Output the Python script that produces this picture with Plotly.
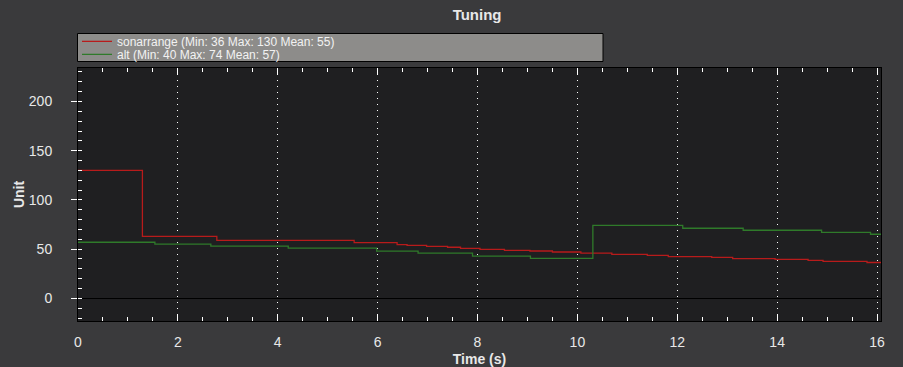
import plotly.graph_objects as go

# ---- data ----
sonar_t = [0, 1.29, 2.78, 5.53, 6.39, 6.59, 6.98, 7.40, 7.66, 8.05, 8.54, 9.05, 9.50,
           10.07, 10.69, 11.40, 11.82, 12.69, 13.11, 13.96, 14.62, 14.92, 15.80, 16.08]
sonar_v = [130, 63, 59, 56.6, 54.5, 53.9, 52.9, 51.9, 50.8, 49.8, 48.8, 48.1, 47.1,
           46.0, 44.7, 43.7, 42.3, 41.7, 40.3, 39.7, 38.6, 37.6, 36.4, 36.4]

alt_t = [0, 1.54, 2.66, 4.21, 5.98, 6.81, 7.90, 9.06, 10.31, 12.11, 13.32, 14.89, 15.87, 16.08]
alt_v = [57, 55, 53, 51, 48, 46, 43, 40.7, 74.2, 71.2, 69.2, 67.1, 65.1, 65.1]

sonar_name = "sonarrange (Min: 36 Max: 130 Mean: 55)"
alt_name = "alt (Min: 40 Max: 74 Mean: 57)"

x_ticks = [0, 2, 4, 6, 8, 10, 12, 14, 16]
y_ticks = [0, 50, 100, 150, 200]

FONT = "Liberation Sans, Arial, sans-serif"
TXT = "#e8e8e8"

fig = go.Figure()
fig.add_trace(go.Scatter(x=sonar_t, y=sonar_v, mode="lines", name=sonar_name,
                         line=dict(color="#b81b1b", width=1.3, shape="hv"), legend="legend"))
fig.add_trace(go.Scatter(x=alt_t, y=alt_v, mode="lines", name=alt_name,
                         line=dict(color="#2f7a2a", width=1.3, shape="hv"), legend="legend2"))

W, H = 903, 367
L, R, T, B = 78, 881, 68, 321
pw, ph = R - L, B - T

def px(xp):
    return (xp - L) / pw

def py(yp):
    return (B - yp) / ph

fig.update_layout(
    template="none",
    width=W, height=H,
    margin=dict(l=L, r=W - R, t=T, b=H - B, pad=0, autoexpand=False),
    paper_bgcolor="#3a3a3c",
    plot_bgcolor="#1f1f21",
    font=dict(family=FONT, color=TXT, size=14),
    showlegend=True,
    title=dict(text="<b>Tuning</b>", x=0.497, xref="paper", xanchor="center",
               y=1 - 15 / H, yanchor="middle", font=dict(size=15, color=TXT)),
    legend=dict(x=px(77), xanchor="left", y=py(41.3), yanchor="middle",
                bgcolor="rgba(0,0,0,0)", borderwidth=0,
                font=dict(size=12, color="#f2f2f2", family=FONT)),
    legend2=dict(x=px(77), xanchor="left", y=py(54.3), yanchor="middle",
                 bgcolor="rgba(0,0,0,0)", borderwidth=0,
                 font=dict(size=12, color="#f2f2f2", family=FONT)),
    xaxis=dict(range=[0, 16.08], tickvals=x_ticks, ticktext=[str(v) for v in x_ticks],
               automargin=False,
               ticks="inside", ticklen=6, tickwidth=1, tickcolor="white",
               showline=True, linecolor="black", linewidth=1, mirror="ticks",
               showgrid=True, gridcolor="white", griddash="1px,5px", gridwidth=1.3,
               zeroline=False, ticklabelstandoff=8,
               minor=dict(dtick=0.5, tick0=0, ticks="inside", ticklen=4,
                          tickcolor="white", showgrid=False),
               title=dict(text="<b>Time (s)</b>", font=dict(size=14, color=TXT), standoff=5)),
    yaxis=dict(range=[-23, 234], tickvals=y_ticks, ticktext=[str(v) for v in y_ticks],
               automargin=False,
               ticks="outside", ticklen=6, tickwidth=1, tickcolor="white",
               showline=True, linecolor="black", linewidth=1, mirror=True,
               showgrid=False, zeroline=True, zerolinecolor="black", zerolinewidth=1,
               ticklabelstandoff=16,
               minor=dict(dtick=10, tick0=0, ticks="inside", ticklen=4,
                          tickcolor="white", showgrid=False),
               title=dict(text="<b>Unit</b>", font=dict(size=14, color=TXT), standoff=0)),
    yaxis2=dict(range=[-23, 234], overlaying="y", side="left", tickvals=y_ticks,
                automargin=False,
                ticks="inside", ticklen=6, tickwidth=1, tickcolor="white",
                showticklabels=False, showgrid=False, zeroline=False, showline=False),
    shapes=[dict(type="rect", xref="paper", yref="paper",
                 x0=px(77.5), x1=px(603), y0=py(61.5), y1=py(33.5),
                 fillcolor="#8d8c8a", line=dict(color="black", width=1), layer="below")],
)

fig.write_html("out.html", config={"displayModeBar": False},
               post_script="document.body.style.margin='0';")
